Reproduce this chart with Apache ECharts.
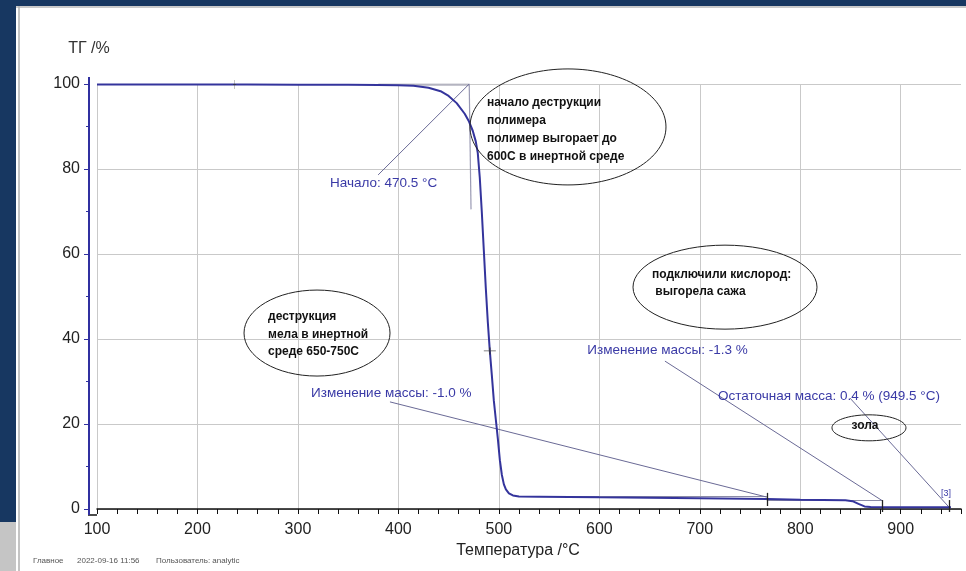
<!DOCTYPE html>
<html>
<head>
<meta charset="utf-8">
<script src="https://cdn.jsdelivr.net/npm/echarts@6/dist/echarts.min.js"></script>
<style>
  html, body { margin: 0; padding: 0; background: #ffffff; }
  #chart { width: 966px; height: 571px; }
</style>
</head>
<body>
<div id="chart"></div>
<script>
// Thermogravimetric curve: temperature, °C  ->  remaining mass, %
const temperature = [100, 150, 200, 250, 300, 350, 380, 400, 415, 430,
  442, 450, 458, 466, 470, 474, 477, 479, 481, 483,
  485, 487, 489, 491, 493, 495, 497, 499, 501, 503,
  505, 507, 510, 514, 520, 540, 600, 650, 700, 767,
  800, 845, 852, 858, 864, 870, 900, 950];
const massPercent = [99.9, 99.9, 99.9, 99.9, 99.85, 99.8, 99.75, 99.7, 99.6, 99.1,
  98.3, 97.2, 95.5, 93, 91.3, 89, 86.5, 83.8, 78, 70,
  61, 52, 44, 37.2, 31.5, 25.5, 21, 16.5, 11.5, 8,
  5.8, 4.6, 3.7, 3.2, 2.95, 2.9, 2.75, 2.65, 2.55, 2.35,
  2.2, 2.05, 1.85, 1.2, 0.6, 0.45, 0.42, 0.4];

// Axis tick labels
const xTickLabels = [100, 200, 300, 400, 500, 600, 700, 800, 900];
const yTickLabels = [0, 20, 40, 60, 80, 100];

// Evaluation results
const onsetTemp = 470.5;
const onsetLevel = 100;
const baselineStart = 380;
const tangentEnd = [472.3, 70.5];
const inflection = [491, 37.2];
const rangeStartMark = [237, 99.9];
const stepLevels = [
  [[520, 2.9], [766.7, 2.9]],
  [[766.7, 2.1], [882, 2.1]],
  [[882, 0.5], [948, 0.5]]
];
const limitTicks = [
  [[766.7, 3.8], [766.7, 0.7]],
  [[882, 2.1], [882, -0.7]],
  [[948, 2.1], [948, -0.7]]
];

// Result labels (text, anchor temperature/mass) and their leader lines
const resultLabels = [
  { text: 'Начало: 470.5 °C', at: [331.9, 76.7], leader: [[379.8, 78.6], [470.5, 100]] },
  { text: 'Изменение массы: -1.0 %', at: [313, 27.3], leader: [[391.6, 25.2], [766.7, 2.8]] },
  { text: 'Изменение массы: -1.3 %', at: [588, 37.4], leader: [[665.3, 34.8], [882, 1.9]] },
  { text: 'Остаточная масса: 0.4 % (949.5 °C)', at: [718.1, 26.6], leader: [[849.5, 26.1], [948, 0.45]] }
];
const stepIndexLabel = { text: '[3]', at: [945, 3.6] };

// Hand-written notes inside ellipses (centre in data units)
const notes = [
  { lines: ['начало деструкции', 'полимера', 'полимер выгорает до', '600С в инертной среде'], center: [568.8, 89.9] },
  { lines: ['деструкция', 'мела в инертной', 'среде 650-750С'], center: [319, 41.4] },
  { lines: ['подключили кислород:', ' выгорела сажа'], center: [725.1, 52.2] },
  { lines: ['зола'], center: [868.4, 19.1] }
];
// Ellipse geometry and text offsets in pixels, one entry per note
const noteLayout = [
  { rx: 98, ry: 58, dx: -81, dy: -33, lh: 18, align: 'left' },
  { rx: 73, ry: 43, dx: -49, dy: -25, lh: 17.5, align: 'left' },
  { rx: 92, ry: 42, dx: -73, dy: -20.5, lh: 17, align: 'left' },
  { rx: 37, ry: 13, dx: -4, dy: -9, lh: 14, align: 'center' }
];

const FONT = '"Liberation Sans", Arial, Helvetica, sans-serif';
const CURVE = '#34349c';
const AXIS_BLUE = '#3030a0';
const LABEL_BLUE = '#3a3aa6';
const LEADER = '#6a6a96';
const GRID = '#c9c9c9';

const chart = echarts.init(document.getElementById('chart'), null, { renderer: 'canvas' });

const curveData = temperature.map((t, i) => [t, massPercent[i]]);
const plusPath = 'path://M0,4.4 H10 V5.6 H0 Z M4.4,0 H5.6 V10 H4.4 Z';

const option = {
  backgroundColor: '#ffffff',
  animation: false,
  grid: { left: 97, right: 5, top: 84, bottom: 62, containLabel: false },
  xAxis: [
    {
      type: 'value', min: 100, max: 960, interval: 20, position: 'bottom', offset: 6,
      axisLine: { show: true, lineStyle: { color: '#111', width: 1.5 } },
      axisTick: { show: true, length: 5, lineStyle: { color: '#111', width: 1 } },
      axisLabel: {
        formatter: v => (xTickLabels.indexOf(v) >= 0 ? String(v) : ''),
        fontSize: 16, color: '#222', fontFamily: FONT, margin: 7
      },
      splitLine: { show: false },
      name: 'Температура /°C', nameLocation: 'middle', nameGap: 27,
      nameTextStyle: { fontSize: 16, color: '#222', fontFamily: FONT, padding: [0, 22, 0, 0] }
    },
    {
      type: 'value', min: 100, max: 960, interval: 100, position: 'bottom',
      axisLine: { show: false }, axisTick: { show: false }, axisLabel: { show: false },
      splitLine: { show: true, showMinLine: true, showMaxLine: false, lineStyle: { color: GRID, width: 1 } }
    }
  ],
  yAxis: {
    type: 'value', min: yTickLabels[0], max: yTickLabels[yTickLabels.length - 1], interval: 20, offset: 8,
    axisLine: { show: true, lineStyle: { color: AXIS_BLUE, width: 2 } },
    axisTick: { show: true, length: 5, lineStyle: { color: AXIS_BLUE } },
    minorTick: { show: true, splitNumber: 2, length: 3, lineStyle: { color: AXIS_BLUE } },
    axisLabel: { fontSize: 16, color: '#222', fontFamily: FONT, margin: 9 },
    splitLine: { show: true, lineStyle: { color: GRID, width: 1 } },
    name: 'ТГ /%', nameLocation: 'end', nameGap: 27,
    nameTextStyle: { fontSize: 16, color: '#333', fontFamily: FONT }
  },
  series: [
    {
      name: 'tangents', type: 'lines', coordinateSystem: 'cartesian2d', z: 3,
      lineStyle: { color: '#9a9ab4', width: 1.2, opacity: 1 },
      data: [
        { coords: [[baselineStart, onsetLevel], [onsetTemp, onsetLevel]], lineStyle: { width: 2.5, color: '#b4b4c0' } },
        { coords: [[onsetTemp, onsetLevel], tangentEnd] }
      ]
    },
    {
      name: 'steps', type: 'lines', coordinateSystem: 'cartesian2d', z: 3,
      lineStyle: { color: '#8c8ca6', width: 1.2, opacity: 1 },
      data: stepLevels.map(c => ({ coords: c }))
    },
    {
      name: 'leaders', type: 'lines', coordinateSystem: 'cartesian2d', z: 3,
      lineStyle: { color: LEADER, width: 1, opacity: 1 },
      data: resultLabels.map(l => ({ coords: l.leader }))
    },
    {
      name: 'ТГ', type: 'line', data: curveData, showSymbol: false, z: 5,
      smooth: false,
      lineStyle: { color: CURVE, width: 2 }
    },
    {
      name: 'limits', type: 'lines', coordinateSystem: 'cartesian2d', z: 6, clip: false,
      lineStyle: { color: '#222', width: 1.3, opacity: 1 },
      data: limitTicks.map(c => ({ coords: c }))
    },
    {
      name: 'marks', type: 'scatter', z: 7, symbol: plusPath,
      itemStyle: { color: '#333' },
      data: [
        { value: rangeStartMark, symbolSize: [3, 9] },
        { value: inflection, symbolSize: [12, 7] }
      ]
    }
  ]
};

chart.setOption(option);

// Overlay: frame, axis extensions, notes, result labels and footer
function toPx(p) { return chart.convertToPixel({ xAxisIndex: 0, yAxisIndex: 0 }, p); }

const plotOrigin = toPx([100, 0]);
const plotTop = toPx([100, 100]);
const xAxisY = plotOrigin[1] + 6;
const yAxisX = plotOrigin[0] - 8;

const graphics = [
  { type: 'rect', shape: { x: 0, y: 0, width: 966, height: 6 }, style: { fill: '#173761' }, z: 100 },
  { type: 'rect', shape: { x: 0, y: 0, width: 16, height: 522 }, style: { fill: '#173761' }, z: 100 },
  { type: 'rect', shape: { x: 0, y: 522, width: 16, height: 49 }, style: { fill: '#c5c5c5' }, z: 100 },
  { type: 'line', shape: { x1: 16, y1: 7, x2: 966, y2: 7 }, style: { stroke: '#b8b8b8', lineWidth: 1.5 }, z: 100 },
  { type: 'line', shape: { x1: 19, y1: 6, x2: 19, y2: 571 }, style: { stroke: '#b0b0b0', lineWidth: 1.5 }, z: 100 },
  { type: 'line', shape: { x1: yAxisX - 1, y1: xAxisY, x2: plotOrigin[0], y2: xAxisY }, style: { stroke: '#111', lineWidth: 1.5 }, z: 50 },
  { type: 'line', shape: { x1: yAxisX, y1: plotTop[1] - 7, x2: yAxisX, y2: plotTop[1] }, style: { stroke: AXIS_BLUE, lineWidth: 2 }, z: 50 },
  { type: 'line', shape: { x1: yAxisX, y1: plotOrigin[1], x2: yAxisX, y2: xAxisY }, style: { stroke: AXIS_BLUE, lineWidth: 2 }, z: 50 },
  { type: 'text', x: 33, y: 561, style: { text: 'Главное', font: '8px ' + FONT, fill: '#555', verticalAlign: 'middle' }, z: 100 },
  { type: 'text', x: 77, y: 561, style: { text: '2022-09-16 11:56', font: '8px ' + FONT, fill: '#555', verticalAlign: 'middle' }, z: 100 },
  { type: 'text', x: 156, y: 561, style: { text: 'Пользователь: analytic', font: '8px ' + FONT, fill: '#555', verticalAlign: 'middle' }, z: 100 }
];

notes.forEach((n, i) => {
  const L = noteLayout[i];
  const c = toPx(n.center);
  graphics.push({
    type: 'ellipse', shape: { cx: c[0], cy: c[1], rx: L.rx, ry: L.ry },
    style: { fill: 'none', stroke: '#222', lineWidth: 1 }, z: 90
  });
  graphics.push({
    type: 'text', x: c[0] + L.dx, y: c[1] + L.dy,
    style: {
      text: n.lines.join('\n'), font: 'bold 12px ' + FONT, fill: '#111',
      lineHeight: L.lh, verticalAlign: 'top', align: L.align
    }, z: 91
  });
});

resultLabels.forEach(l => {
  const p = toPx(l.at);
  graphics.push({
    type: 'text', x: p[0], y: p[1],
    style: { text: l.text, font: '13.5px ' + FONT, fill: LABEL_BLUE, verticalAlign: 'middle' }, z: 92
  });
});
{
  const p = toPx(stepIndexLabel.at);
  graphics.push({
    type: 'text', x: p[0], y: p[1],
    style: { text: stepIndexLabel.text, font: '9px ' + FONT, fill: LABEL_BLUE, verticalAlign: 'middle', align: 'center' }, z: 92
  });
}

chart.setOption({ graphic: graphics });
</script>
</body>
</html>
